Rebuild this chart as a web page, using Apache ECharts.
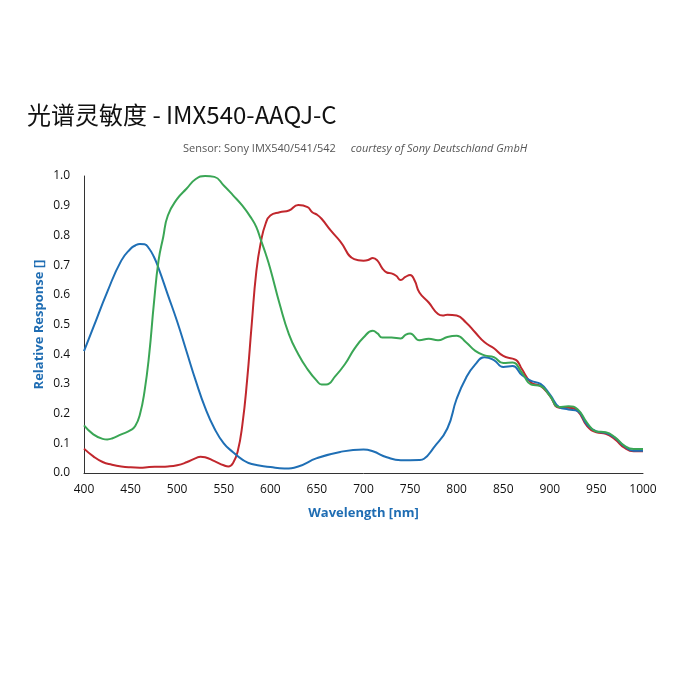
<!DOCTYPE html>
<html><head><meta charset="utf-8">
<script src="https://cdn.jsdelivr.net/npm/echarts@6/dist/echarts.min.js"></script>
<style>html,body{margin:0;padding:0;background:#fff}#c{width:682px;height:681px}</style>
</head><body><div id="c"></div>
<script>
const blueX = [400,410,425,440,450,455,460,465,470,475,480,490,500,510,520,530,540,550,560,570,580,600,615,630,650,675,700,710,725,740,760,765,775,790,800,810,820,830,840,850,860,870,880,890,900,910,920,930,940,950,960,970,980,990,1000];
const blueY = [0.41,0.49,0.61,0.715,0.755,0.766,0.771,0.77,0.755,0.728,0.69,0.60,0.51,0.41,0.31,0.22,0.15,0.10,0.07,0.045,0.03,0.02,0.015,0.022,0.05,0.071,0.079,0.073,0.053,0.043,0.044,0.048,0.084,0.15,0.25,0.32,0.366,0.39,0.38,0.357,0.36,0.33,0.31,0.30,0.265,0.222,0.214,0.208,0.163,0.14,0.135,0.118,0.09,0.075,0.075];
const redX = [400,410,420,430,440,450,460,470,480,490,500,510,520,525,530,540,550,555,560,565,570,575,580,585,590,595,600,610,620,630,640,645,650,655,665,675,690,700,705,710,715,720,725,730,735,740,745,750,755,760,770,780,785,790,800,810,820,830,840,850,860,865,870,880,890,900,910,920,930,940,950,960,970,980,990,1000];
const redY = [0.082,0.056,0.037,0.028,0.022,0.019,0.018,0.02,0.021,0.022,0.026,0.036,0.05,0.055,0.053,0.04,0.026,0.022,0.034,0.073,0.163,0.31,0.50,0.68,0.78,0.84,0.867,0.878,0.884,0.902,0.895,0.878,0.87,0.856,0.816,0.78,0.72,0.715,0.717,0.724,0.715,0.69,0.675,0.672,0.664,0.65,0.66,0.667,0.647,0.608,0.574,0.535,0.53,0.533,0.53,0.507,0.473,0.44,0.42,0.394,0.385,0.377,0.35,0.304,0.293,0.26,0.22,0.22,0.208,0.158,0.137,0.132,0.113,0.085,0.073,0.073];
const greenX = [400,410,420,425,430,440,450,455,460,465,470,475,480,485,490,500,510,520,530,540,550,560,570,580,585,590,595,600,610,620,630,640,650,655,660,670,680,690,700,710,715,720,730,740,745,750,760,770,780,790,800,810,820,830,840,850,860,870,880,890,900,910,920,930,940,950,960,970,980,990,1000];
const greenY = [0.16,0.13,0.115,0.113,0.116,0.13,0.144,0.158,0.197,0.276,0.40,0.57,0.715,0.794,0.867,0.923,0.957,0.99,1.0,0.997,0.968,0.935,0.90,0.856,0.828,0.783,0.738,0.687,0.569,0.467,0.40,0.349,0.31,0.298,0.298,0.327,0.366,0.417,0.456,0.479,0.47,0.456,0.456,0.453,0.465,0.47,0.447,0.452,0.447,0.458,0.462,0.44,0.411,0.396,0.39,0.37,0.372,0.338,0.298,0.293,0.26,0.222,0.225,0.214,0.169,0.14,0.137,0.12,0.092,0.081,0.081];

const zip = (xs, ys) => xs.map((x, i) => [x, ys[i]]);
const chart = echarts.init(document.getElementById('c'));
const font = '"Open Sans", "Noto Sans", sans-serif';
chart.setOption({
  animation: false,
  title: [{
    text: '光谱灵敏度 - IMX540-AAQJ-C',
    left: 22, top: 98,
    textStyle: { fontSize: 24, fontWeight: 'normal', color: '#111', fontFamily: '"Noto Sans CJK SC", "Open Sans", sans-serif' }
  }, {
    text: '{a|Sensor: Sony IMX540/541/542}   {b|courtesy of Sony Deutschland GmbH}',
    left: 178, top: 135,
    textStyle: { fontWeight: 'normal', rich: {
      a: { fontSize: 11, color: '#555', fontWeight: 'normal', fontFamily: font },
      b: { fontSize: 11, color: '#555', fontWeight: 'normal', fontStyle: 'italic', fontFamily: font }
    } }
  }],
  grid: { left: 84, right: 39, top: 176, bottom: 208 },
  xAxis: {
    type: 'value', min: 400, max: 1000, interval: 50,
    name: 'Wavelength [nm]', nameLocation: 'middle', nameGap: 34, nameMoveOverlap: false,
    nameTextStyle: { color: '#1f6db3', fontWeight: 'bold', fontSize: 13, fontFamily: font },
    axisLine: { lineStyle: { color: '#333', width: 1 } },
    axisTick: { show: false },
    splitLine: { show: false },
    axisLabel: { color: '#111', fontSize: 12, margin: 11, fontFamily: font,
      formatter: v => String(v) }
  },
  yAxis: {
    type: 'value', min: 0, max: 1, interval: 0.1,
    name: 'Relative Response []', nameLocation: 'middle', nameGap: 38, nameRotate: 90, nameMoveOverlap: false,
    nameTextStyle: { color: '#1f6db3', fontWeight: 'bold', fontSize: 13, fontFamily: font },
    axisLine: { show: true, lineStyle: { color: '#333', width: 1 } },
    axisTick: { show: false },
    splitLine: { show: false },
    axisLabel: { color: '#111', fontSize: 12, margin: 14, fontFamily: font,
      formatter: v => v.toFixed(1) }
  },
  series: [
    { type: 'line', data: zip(redX, redY), smooth: 0.5, showSymbol: false, lineStyle: { color: '#c1272d', width: 2 } },
    { type: 'line', data: zip(blueX, blueY), smooth: 0.5, showSymbol: false, lineStyle: { color: '#1f6fb5', width: 2 } },
    { type: 'line', data: zip(greenX, greenY), smooth: 0.5, showSymbol: false, lineStyle: { color: '#3aa655', width: 2 } }
  ]
});
</script></body></html>
